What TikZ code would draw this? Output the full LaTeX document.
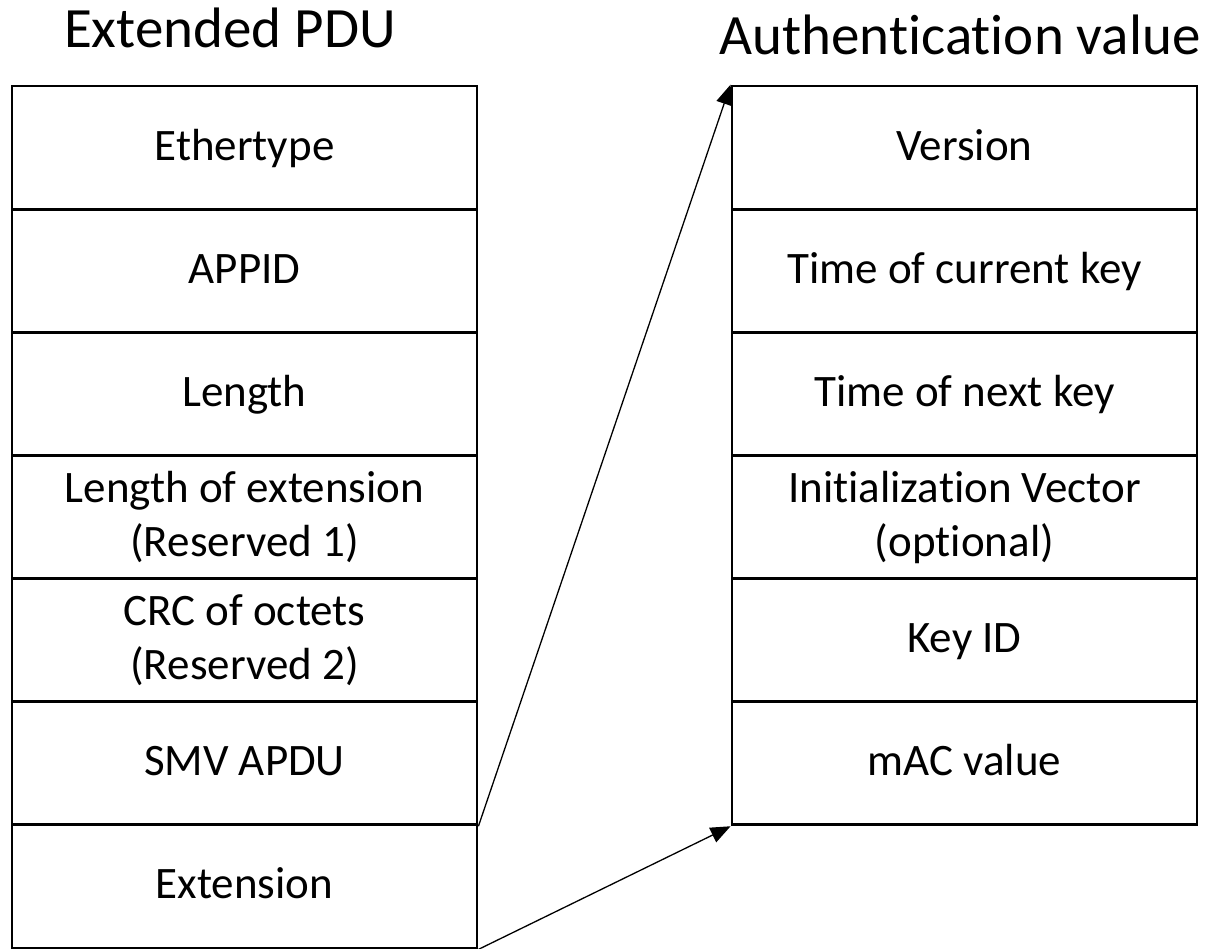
\documentclass[tikz,border=0pt]{standalone}
\usepackage{fontspec}
\setmainfont{Carlito}[Ligatures={NoCommon,NoRequired}]
\usetikzlibrary{arrows.meta}
\newcommand{\cs}{\rule[-14pt]{0pt}{53pt}}
\tikzset{
  cell/.style={draw=black, line width=2.8pt, minimum width=465pt, minimum height=123.14pt,
    inner sep=0pt, align=center, font=\fontsize{45}{54}\selectfont},
  ttl/.style={anchor=base, inner sep=0pt, font=\fontsize{57}{68}\selectfont},
  link/.style={line width=1.3pt, -{Triangle[length=20pt,width=16pt]}}
}
\begin{document}
\begin{tikzpicture}[x=1pt,y=-1pt]
\useasboundingbox (0,0) rectangle (1216,949);
\node[ttl] (t1) at (230,48) {Extended PDU};
\node[ttl] (t2) at (960,55) {Authentication value};
% left column
\node[cell] (l1) at (244.5,147.57) {\cs Ethertype};
\node[cell] (l2) at (244.5,270.71) {\cs APPID};
\node[cell] (l3) at (244.5,393.86) {\cs Length};
\node[cell] (l4) at (244.5,517.00) {\cs Length of extension\\\cs (Reserved 1)};
\node[cell] (l5) at (244.5,640.14) {\cs CRC of octets\\\cs (Reserved 2)};
\node[cell] (l6) at (244.5,763.29) {\cs SMV APDU};
\node[cell] (l7) at (244.5,886.43) {\cs Extension};
% right column
\node[cell] (r1) at (964.5,147.57) {\cs Version};
\node[cell] (r2) at (964.5,270.71) {\cs Time of current key};
\node[cell] (r3) at (964.5,393.86) {\cs Time of next key};
\node[cell] (r4) at (964.5,517.00) {\cs Initialization Vector\\\cs (optional)};
\node[cell] (r5) at (964.5,640.14) {\cs Key ID};
\node[cell] (r6) at (964.5,763.29) {\cs mAC value};
% connectors
\draw[link] (l6.south east) -- (r1.north west);
\draw[link] (l7.south east) -- (r6.south west);
\end{tikzpicture}
\end{document}
